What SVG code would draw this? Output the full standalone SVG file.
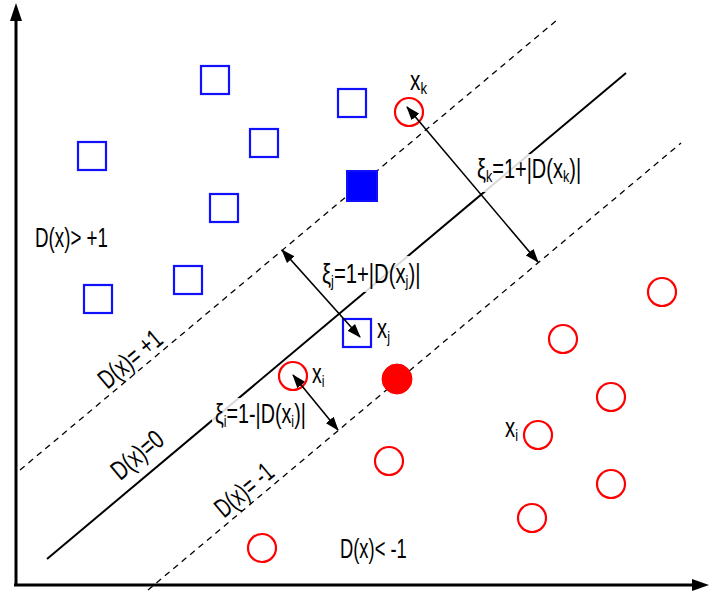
<svg xmlns="http://www.w3.org/2000/svg" width="709" height="595" viewBox="0 0 709 595">
<defs>
<style>
.sq{fill:none;stroke:#1010ff;stroke-width:2.2}
.sqf{fill:#0000ff;stroke:#1010ff;stroke-width:2}
.ci{fill:none;stroke:#ff0000;stroke-width:2.2}
.cif{fill:#ff0000;stroke:#ff0000;stroke-width:1}
.t{font-family:"Liberation Sans",Arial,sans-serif;font-size:27px;fill:#000}
.s{font-size:17px}
.ax{stroke:#000;stroke-width:3;fill:none}
.solid{stroke:#000;stroke-width:2;fill:none}
.dash{stroke:#000;stroke-width:1.3;fill:none;stroke-dasharray:6 5}
.arr{stroke:#000;stroke-width:1.6;fill:none;marker-start:url(#ah);marker-end:url(#ah)}
.bg{fill:#fff;fill-opacity:0.85}
</style>
<marker id="ah" viewBox="0 0 14 10" refX="13" refY="5" markerWidth="14" markerHeight="10" markerUnits="userSpaceOnUse" orient="auto-start-reverse">
<path d="M0,0 L14,5 L0,10 Z" fill="#000"/>
</marker>
</defs>
<rect width="709" height="595" fill="#fff"/>

<g id="axes">
<line class="ax" x1="16" y1="586" x2="16" y2="18"/>
<polygon points="16,3 10,21 22,21" fill="#000"/>
<line class="ax" x1="14" y1="585" x2="694" y2="585"/>
<polygon points="709,585 692,579 692,591" fill="#000"/>
</g>

<g id="boundaries">
<line class="dash" x1="20" y1="470" x2="557" y2="20"/>
<line class="solid" x1="47" y1="559" x2="626" y2="73"/>
<line class="dash" x1="148" y1="590" x2="681" y2="143"/>
</g>

<g id="boundary-labels">
<text class="t" transform="translate(136,366) rotate(-40) scale(0.71,1)" text-anchor="middle">D(x)= +1</text>
<text class="t" transform="translate(143,462) rotate(-40) scale(0.73,1)" text-anchor="middle">D(x)=0</text>
<text class="t" transform="translate(250,497) rotate(-40) scale(0.69,1)" text-anchor="middle">D(x)= -1</text>
<text class="t" transform="translate(35,247) scale(0.695,1)">D(x)&gt; +1</text>
<text class="t" transform="translate(340,558) scale(0.68,1)">D(x)&lt; -1</text>
</g>

<g id="squares">
<g id="sq1"><rect class="sq" x="201" y="66" width="28" height="28"/></g>
<g id="sq2"><rect class="sq" x="338" y="89" width="28" height="28"/></g>
<g id="sq3"><rect class="sq" x="250" y="129" width="28" height="28"/></g>
<g id="sq4"><rect class="sq" x="78" y="142" width="28" height="28"/></g>
<g id="sq5"><rect class="sq" x="210" y="194" width="28" height="28"/></g>
<g id="sq6"><rect class="sq" x="174" y="266" width="28" height="28"/></g>
<g id="sq7"><rect class="sq" x="84" y="285" width="28" height="28"/></g>
<g id="sq-support"><rect class="sqf" x="347" y="171" width="30" height="30"/></g>
<g id="sq-xj"><rect class="sq" x="343" y="319" width="28" height="28"/>
<text class="t" transform="translate(377,338) scale(0.75,1)">x<tspan class="s" dy="5">j</tspan></text></g>
</g>

<g id="circles">
<g id="ci-xk"><circle class="ci" cx="409" cy="112" r="14"/>
<text class="t" transform="translate(410,90) scale(0.77,1)">x<tspan class="s" dy="4">k</tspan></text></g>
<g id="ci-xi"><circle class="ci" cx="293" cy="376" r="14"/>
<text class="t" transform="translate(312,383) scale(0.72,1)">x<tspan class="s" dy="4">i</tspan></text></g>
<g id="ci-support"><circle class="cif" cx="397" cy="379" r="15"/></g>
<g id="ci1"><circle class="ci" cx="662" cy="292" r="14"/></g>
<g id="ci2"><circle class="ci" cx="563" cy="339" r="14"/></g>
<g id="ci3"><circle class="ci" cx="611" cy="397" r="14"/></g>
<g id="ci4"><circle class="ci" cx="538" cy="435" r="14"/>
<text class="t" transform="translate(505,437) scale(0.75,1)">x<tspan class="s" dy="4">i</tspan></text></g>
<g id="ci5"><circle class="ci" cx="389" cy="461" r="14"/></g>
<g id="ci6"><circle class="ci" cx="611" cy="484" r="14"/></g>
<g id="ci7"><circle class="ci" cx="532" cy="518" r="14"/></g>
<g id="ci8"><circle class="ci" cx="262" cy="548" r="14"/></g>
</g>

<g id="slack-labels">
<rect class="bg" x="476" y="154" width="110" height="38"/>
<text class="t" transform="translate(477,178) scale(0.74,1)">ξ<tspan class="s" dy="4">k</tspan><tspan dy="-4">=1+|D(x</tspan><tspan class="s" dy="4">k</tspan><tspan dy="-4">)|</tspan></text>
<rect class="bg" x="318" y="256" width="108" height="36"/>
<text class="t" transform="translate(322,283) scale(0.75,1)">ξ<tspan class="s" dy="4">j</tspan><tspan dy="-4">=1+|D(x</tspan><tspan class="s" dy="4">j</tspan><tspan dy="-4">)|</tspan></text>
<rect class="bg" x="212" y="398" width="99" height="32"/>
<text class="t" transform="translate(215,423) scale(0.73,1)">ξ<tspan class="s" dy="4">i</tspan><tspan dy="-4">=1-|D(x</tspan><tspan class="s" dy="4">i</tspan><tspan dy="-4">)|</tspan></text>
</g>

<g id="connectors">
<line class="arr" x1="407" y1="107" x2="538" y2="262"/>
<line class="arr" x1="282" y1="250" x2="360" y2="337"/>
<line class="arr" x1="293" y1="375" x2="338" y2="430"/>
</g>
</svg>
